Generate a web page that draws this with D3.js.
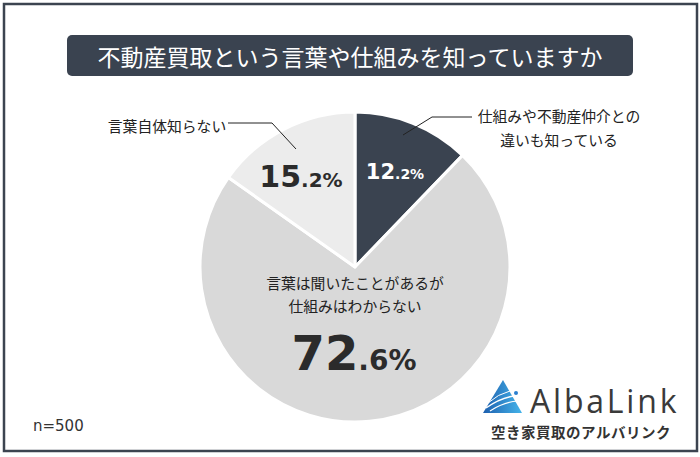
<!DOCTYPE html>
<html><head><meta charset="utf-8">
<script src="https://cdn.jsdelivr.net/npm/d3@7"></script>
<style>body{margin:0;background:#fff}svg{display:block}</style>
</head><body>
<script>
const title = "不動産買取という言葉や仕組みを知っていますか";
const categories = ["仕組みや不動産仲介との\n違いも知っている", "言葉は聞いたことがあるが\n仕組みはわからない", "言葉自体知らない"];
const values = [12.2, 72.6, 15.2];
const colors = ["#3a4350", "#d9d9d9", "#ececec"];
const note = "n=500";

const W = 700, H = 457;
const svg = d3.select("body").append("svg").attr("width", W).attr("height", H);
const font = "'Noto Sans CJK JP','Noto Sans',sans-serif";

svg.append("rect").attr("x", 4).attr("y", 4).attr("width", 693).attr("height", 447)
  .attr("fill", "#fff").attr("stroke", "#3c4450").attr("stroke-width", 2.5);

svg.append("rect").attr("x", 67).attr("y", 35).attr("width", 566).attr("height", 41).attr("rx", 5)
  .attr("fill", "#3a4350");
svg.append("text").attr("x", 350).attr("y", 56).attr("text-anchor", "middle").attr("dominant-baseline", "central")
  .attr("fill", "#fff").attr("font-family", font).attr("font-size", 23).text(title);

const cx = 355, cy = 267, r = 155;
const pie = d3.pie().sort(null).value(d => d)(values);
const arc = d3.arc().innerRadius(0).outerRadius(r);
const g = svg.append("g").attr("transform", `translate(${cx},${cy})`);
g.selectAll("path").data(pie).join("path").attr("d", arc)
  .attr("fill", (d, i) => colors[i]).attr("stroke", "#fff").attr("stroke-width", 3).attr("stroke-linejoin", "round");

function pct(x, y, v, big, small, color) {
  const s = v.toFixed(1).split(".");
  const t = svg.append("text").attr("x", x).attr("y", y).attr("text-anchor", "middle")
    .attr("font-family", "'DejaVu Sans',sans-serif").attr("font-weight", 700).attr("fill", color);
  t.append("tspan").attr("font-size", big).text(s[0]);
  t.append("tspan").attr("font-size", small).text("." + s[1] + "%");
}
pct(395, 179, values[0], 21, 14, "#fff");
pct(301, 187, values[2], 30, 20, "#2b2b2b");
pct(354, 370, values[1], 48, 28, "#2b2b2b");

function lines(x, y, txt, anchor, lh) {
  const t = svg.append("text").attr("text-anchor", anchor).attr("font-family", font)
    .attr("font-size", 14.8).attr("fill", "#222");
  txt.split("\n").forEach((l, i) => t.append("tspan").attr("x", x).attr("y", y + i * lh).text(l));
}
lines(559, 122, categories[0], "middle", 24);
lines(355, 289, categories[1], "middle", 23);
lines(167, 132, categories[2], "middle", 24);

svg.append("polyline").attr("points", "403,135 432,117 472,117").attr("fill", "none").attr("stroke", "#222").attr("stroke-width", 1);
svg.append("polyline").attr("points", "228,123 272,123 296,149").attr("fill", "none").attr("stroke", "#222").attr("stroke-width", 1);

svg.append("text").attr("x", 33).attr("y", 431).attr("font-family", "'DejaVu Sans',sans-serif")
  .attr("font-size", 15).attr("fill", "#333").text(note);

// logo
const defs = svg.append("defs");
const lg = defs.append("linearGradient").attr("id", "lg").attr("x1", 0).attr("x2", 1).attr("y1", 0).attr("y2", 0);
lg.append("stop").attr("offset", 0).attr("stop-color", "#1d5fae");
lg.append("stop").attr("offset", 1).attr("stop-color", "#45b4ea");
svg.append("path").attr("d", "M503,380 L522,413 L483,413 Z").attr("fill", "url(#lg)");
svg.append("path").attr("d", "M486,408 Q500,398 514,396").attr("stroke", "#fff").attr("stroke-width", 1.5).attr("fill", "none");
svg.append("path").attr("d", "M490,411 Q504,402 518,401").attr("stroke", "#fff").attr("stroke-width", 1.2).attr("fill", "none");
svg.append("path").attr("d", "M488,403 Q498,394 510,391").attr("stroke", "#fff").attr("stroke-width", 1).attr("fill", "none");
svg.append("circle").attr("cx", 516).attr("cy", 393).attr("r", 2).attr("fill", "#2a7fd0");
svg.append("text").attr("x", 530).attr("y", 413).attr("font-family", "'Open Sans',sans-serif")
  .attr("font-size", 32).attr("fill", "#3a3a3a").attr("letter-spacing", 2.8).text("AlbaLink");
svg.append("text").attr("x", 581).attr("y", 438).attr("text-anchor", "middle").attr("font-family", font)
  .attr("font-weight", 700).attr("font-size", 14.5).attr("fill", "#333").attr("letter-spacing", 0.5).text("空き家買取のアルバリンク");
</script>
</body></html>
